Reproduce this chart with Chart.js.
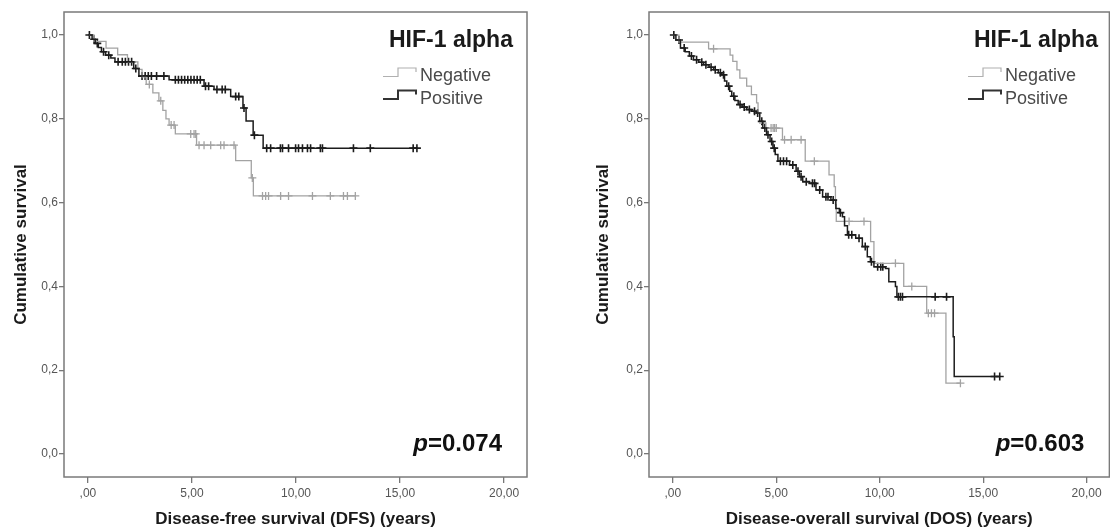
<!DOCTYPE html>
<html>
<head>
<meta charset="utf-8">
<title>HIF-1 alpha survival</title>
<script src="https://cdn.jsdelivr.net/npm/chart.js@4.4.1/dist/chart.umd.min.js"></script>
<style>
  html, body { margin: 0; padding: 0; background: #fff; overflow: hidden; }
  #wrap { position: relative; width: 1110px; height: 532px; overflow: hidden; }
  canvas { position: absolute; top: 0; }
  #dfsChart { left: 0; }
  #dosChart { left: 555px; }
</style>
</head>
<body>
<div id="wrap">
  <canvas id="dfsChart" width="555" height="532"></canvas>
  <canvas id="dosChart" width="560" height="532"></canvas>
</div>
<script>
// axes
const xTicks = [0, 5, 10, 15, 20];
const xTickLabels = [',00', '5,00', '10,00', '15,00', '20,00'];
const yTicks = [0, 0.2, 0.4, 0.6, 0.8, 1.0];
const yTickLabels = ['0,0', '0,2', '0,4', '0,6', '0,8', '1,0'];
const groups = ['Negative', 'Positive'];

// disease-free survival (years / cumulative survival)
const dfsNegTime = [0, 0.3, 0.87, 1.43, 1.9, 2.4, 2.6, 2.8, 3.12, 3.41, 3.6, 3.75, 3.9, 4.2, 5.22, 7.1, 7.85, 7.95, 12.85];
const dfsNegSurv = [1.0, 0.985, 0.969, 0.953, 0.936, 0.918, 0.90, 0.882, 0.862, 0.843, 0.82, 0.80, 0.785, 0.764, 0.737, 0.70, 0.659, 0.616, 0.616];
const dfsNegCensored = [2.95, 3.5, 4.0, 4.14, 4.94, 5.1, 5.18, 5.34, 5.58, 5.9, 6.38, 6.54, 7.02, 7.9, 8.39, 8.54, 8.68, 9.26, 9.64, 10.79, 11.65, 12.28, 12.47, 12.85];

const dfsPosTime = [0, 0.2, 0.35, 0.5, 0.65, 0.85, 1.1, 1.3, 2.2, 2.45, 3.9, 5.58, 6.06, 6.86, 7.45, 7.6, 7.94, 8.42, 15.81];
const dfsPosSurv = [1.0, 0.99, 0.98, 0.97, 0.96, 0.952, 0.945, 0.936, 0.92, 0.902, 0.893, 0.878, 0.87, 0.853, 0.826, 0.795, 0.761, 0.73, 0.73];
const dfsPosCensored = [0.07, 0.3, 0.45, 0.75, 1.0, 1.45, 1.65, 1.8, 1.95, 2.1, 2.3, 2.6, 2.75, 2.9, 3.05, 3.3, 3.65, 4.2, 4.35, 4.5, 4.65, 4.8, 4.95, 5.1, 5.25, 5.4, 5.65, 5.8, 6.2, 6.45, 6.6, 7.1, 7.25, 7.5, 8.0,
  8.59, 8.78, 9.25, 9.35, 9.64, 9.98, 10.12, 10.31, 10.55, 10.7, 11.17, 11.27, 12.76, 13.57, 15.63, 15.81];

// disease-overall survival, right panel
const dosNegTime = [0, 0.3, 1.73, 2.77, 2.9, 3.1, 3.24, 3.57, 3.8, 4.05, 4.12, 4.2, 4.5, 5.3, 6.4, 7.55, 7.8, 7.86, 7.9, 9.56, 9.72, 11.16, 12.27, 13.2, 13.9];
const dosNegSurv = [1.0, 0.983, 0.967, 0.952, 0.937, 0.917, 0.897, 0.878, 0.858, 0.838, 0.814, 0.79, 0.778, 0.75, 0.699, 0.666, 0.638, 0.595, 0.555, 0.507, 0.455, 0.40, 0.336, 0.169, 0.169];
const dosNegCensored = [1.97, 4.75, 4.85, 4.92, 5.0, 5.4, 5.72, 6.2, 6.84, 8.52, 9.24, 10.76, 11.55, 12.35, 12.5, 12.65, 13.9];

const dosPosTime = [0, 0.15, 0.37, 0.6, 0.8, 1.0, 1.25, 1.49, 1.75, 1.97, 2.2, 2.37, 2.5, 2.61, 2.75, 2.85, 3.0, 3.16, 3.35, 3.57, 3.8, 4.05, 4.2, 4.35, 4.53, 4.7, 4.84, 4.95, 5.08,
  5.64, 5.96, 6.12, 6.28, 6.6, 6.92, 7.24, 7.64, 7.88, 8.05, 8.2, 8.3, 8.44, 8.84, 9.16, 9.4, 9.55, 9.72, 10.28, 10.44, 10.76, 10.83, 13.55, 13.6, 15.8];
const dosPosSurv = [1.0, 0.988, 0.969, 0.96, 0.95, 0.941, 0.935, 0.929, 0.923, 0.917, 0.91, 0.905, 0.89, 0.878, 0.866, 0.854, 0.844, 0.834, 0.828, 0.822, 0.818, 0.814, 0.794, 0.778, 0.762, 0.746, 0.73, 0.715, 0.699,
  0.69, 0.675, 0.662, 0.65, 0.646, 0.63, 0.614, 0.606, 0.586, 0.576, 0.566, 0.545, 0.523, 0.515, 0.495, 0.471, 0.459, 0.447, 0.443, 0.411, 0.40, 0.375, 0.28, 0.185, 0.185];
const dosPosCensored = [0.05, 0.3, 0.55, 0.9, 1.15, 1.4, 1.6, 1.85, 2.05, 2.3, 2.45, 2.7, 2.95, 3.25, 3.45, 3.7, 3.95, 4.1, 4.3, 4.45, 4.6, 4.78, 4.9, 5.2, 5.35, 5.5, 5.8, 6.05, 6.2, 6.45, 6.75, 6.85,
  7.1, 7.4, 7.5, 7.75, 8.1, 8.5, 8.65, 9.0, 9.3, 9.6, 9.9, 10.05, 10.15, 10.9, 11.0, 11.1, 12.68, 13.23, 15.55, 15.8];

const negColor = '#a3a3a3';
const posColor = '#1c1c1c';
const fontFamily = '"Liberation Sans", Arial, sans-serif';

Chart.defaults.font.family = fontFamily;

function survivalAt(times, surv, t) {
    let s = surv[0];
    for (let i = 0; i < times.length; i++) {
        if (times[i] <= t) s = surv[i];
    }
    return s;
}

function curvePoints(times, surv) {
    return times.map((t, i) => ({ x: t, y: surv[i] }));
}

function censorPoints(times, surv, cens) {
    return cens.map(t => ({ x: t, y: survivalAt(times, surv, t) }));
}

// box round the plot area
const framePlugin = {
    id: 'frame',
    beforeDatasetsDraw(chart) {
        const { ctx, chartArea: a } = chart;
        ctx.save();
        ctx.strokeStyle = '#7a7a7a';
        ctx.lineWidth = 1.5;
        ctx.strokeRect(a.left, a.top, a.right - a.left, a.bottom - a.top);
        ctx.restore();
    }
};

// SPSS style legend with step icons
const kmLegendPlugin = {
    id: 'kmLegend',
    afterDraw(chart, args, opts) {
        const { ctx, chartArea: a } = chart;
        const x0 = a.left + 325;
        ctx.save();
        ctx.textBaseline = 'alphabetic';
        ctx.textAlign = 'left';
        ctx.fillStyle = '#1a1a1a';
        ctx.font = 'bold 23px ' + fontFamily;
        ctx.fillText(opts.title, x0, a.top + 35);

        ctx.font = '18px ' + fontFamily;
        opts.labels.forEach((label, i) => {
            const b = a.top + 69 + i * 22.5;
            ctx.strokeStyle = opts.colors[i];
            ctx.lineWidth = i === 0 ? 1.2 : 2;
            ctx.beginPath();
            ctx.moveTo(x0 - 6, b - 4.5);
            ctx.lineTo(x0 + 9, b - 4.5);
            ctx.lineTo(x0 + 9, b - 13);
            ctx.lineTo(x0 + 27, b - 13);
            ctx.lineTo(x0 + 27, b - 9);
            ctx.stroke();
            ctx.fillStyle = '#4a4a4a';
            ctx.fillText(label, x0 + 31, b);
        });
        ctx.restore();
    }
};

const pValuePlugin = {
    id: 'pValue',
    afterDraw(chart, args, opts) {
        const { ctx, chartArea: a } = chart;
        const right = a.right - 25;
        const base = 451;
        ctx.save();
        ctx.fillStyle = '#111';
        ctx.textBaseline = 'alphabetic';
        ctx.textAlign = 'left';
        ctx.font = 'bold 24px ' + fontFamily;
        const rest = '=' + opts.value;
        const wRest = ctx.measureText(rest).width;
        ctx.font = 'italic bold 24px ' + fontFamily;
        const wP = ctx.measureText('p').width;
        ctx.fillText('p', right - wRest - wP, base);
        ctx.font = 'bold 24px ' + fontFamily;
        ctx.fillText(rest, right - wRest, base);
        ctx.restore();
    }
};

function makeChart(canvasId, cfg) {
    const datasets = [
        { label: groups[1], data: curvePoints(cfg.posTime, cfg.posSurv), stepped: true, borderColor: posColor, borderWidth: 1.5, pointRadius: 0, fill: false },
        { label: groups[0], data: curvePoints(cfg.negTime, cfg.negSurv), stepped: true, borderColor: negColor, borderWidth: 1.3, pointRadius: 0, fill: false },
        { label: groups[1] + ' censored', data: censorPoints(cfg.posTime, cfg.posSurv, cfg.posCens), showLine: false, pointStyle: 'cross', pointRadius: 4,
          pointBorderColor: posColor, pointBorderWidth: 1.6, borderColor: posColor },
        { label: groups[0] + ' censored', data: censorPoints(cfg.negTime, cfg.negSurv, cfg.negCens), showLine: false, pointStyle: 'cross', pointRadius: 4,
          pointBorderColor: negColor, pointBorderWidth: 1.3, borderColor: negColor }
    ];

    return new Chart(document.getElementById(canvasId), {
        type: 'line',
        data: { datasets: datasets },
        options: {
            responsive: false,
            animation: false,
            layout: { padding: { left: cfg.padLeft, right: cfg.padRight, top: 12, bottom: 0 } },
            scales: {
                x: {
                    type: 'linear',
                    min: -1.15,
                    max: 21.1,
                    afterBuildTicks: scale => { scale.ticks = xTicks.map(v => ({ value: v })); },
                    afterFit: scale => { scale.height = 55; },
                    ticks: {
                        callback: value => xTickLabels[xTicks.indexOf(value)],
                        color: '#555', font: { size: 12 }, padding: 3, maxRotation: 0, autoSkip: false
                    },
                    grid: { drawOnChartArea: false, tickLength: 6, color: '#777', lineWidth: 1.3 },
                    border: { display: false },
                    title: { display: true, text: cfg.xTitle, color: '#1a1a1a', font: { size: 17, weight: 'bold' }, padding: { top: 0, bottom: 2 } }
                },
                y: {
                    min: -0.055,
                    max: 1.055,
                    afterBuildTicks: scale => { scale.ticks = yTicks.map(v => ({ value: v })); },
                    afterFit: scale => { scale.width = 64; },
                    ticks: {
                        callback: value => yTickLabels[yTicks.findIndex(v => Math.abs(v - value) < 1e-9)],
                        color: '#555', font: { size: 12 }, padding: 1
                    },
                    grid: { drawOnChartArea: false, tickLength: 5, color: '#777', lineWidth: 1.3 },
                    border: { display: false },
                    title: { display: true, text: 'Cumulative survival', color: '#1a1a1a', font: { size: 17, weight: 'bold' }, padding: { top: cfg.yTitlePad, bottom: 0 } }
                }
            },
            plugins: {
                legend: { display: false },
                tooltip: { enabled: false },
                kmLegend: { title: 'HIF-1 alpha', labels: groups, colors: ['#b0b0b0', '#333'] },
                pValue: { value: cfg.p }
            }
        },
        plugins: [framePlugin, kmLegendPlugin, pValuePlugin]
    });
}

makeChart('dfsChart', {
    negTime: dfsNegTime, negSurv: dfsNegSurv, negCens: dfsNegCensored,
    posTime: dfsPosTime, posSurv: dfsPosSurv, posCens: dfsPosCensored,
    xTitle: 'Disease-free survival (DFS) (years)', p: '0.074',
    padLeft: 0, padRight: 28, yTitlePad: 11
});

makeChart('dosChart', {
    negTime: dosNegTime, negSurv: dosNegSurv, negCens: dosNegCensored,
    posTime: dosPosTime, posSurv: dosPosSurv, posCens: dosPosCensored,
    xTitle: 'Disease-overall survival (DOS) (years)', p: '0.603',
    padLeft: 30, padRight: 3, yTitlePad: 8
});
</script>
</body>
</html>
